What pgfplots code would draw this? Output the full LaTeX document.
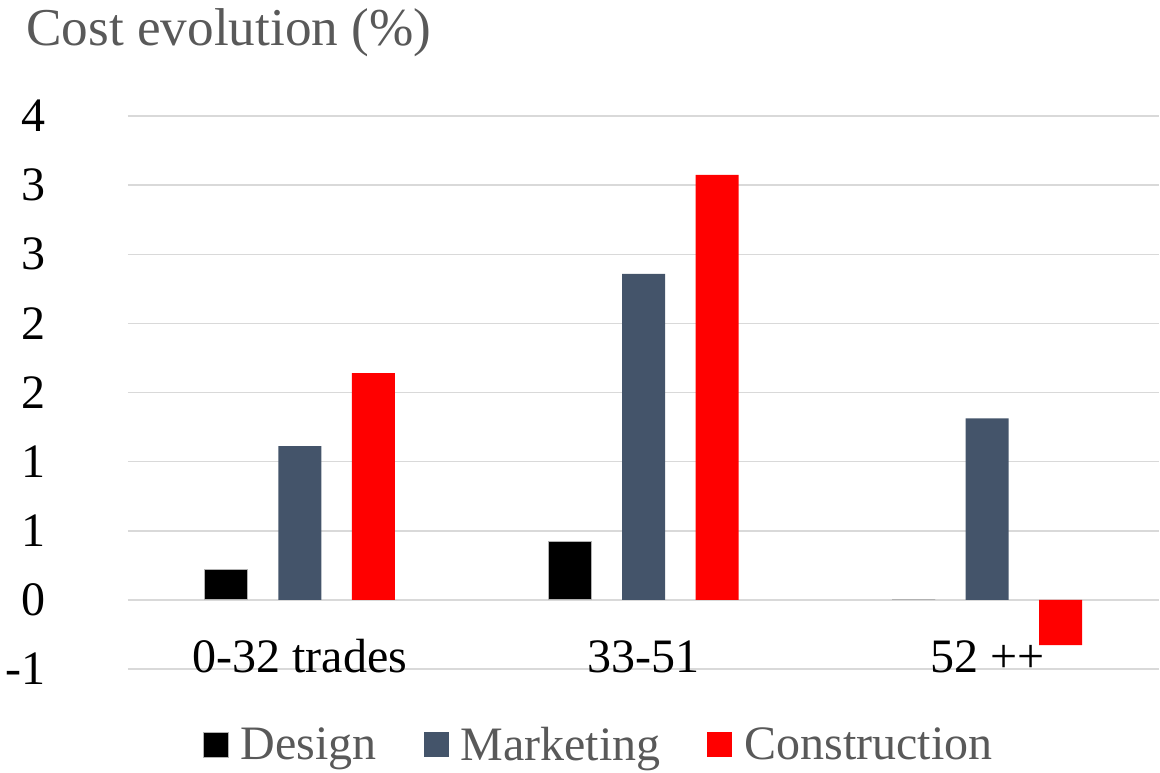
\documentclass[border=0pt]{standalone}
\usepackage{fontspec}
\setmainfont{Liberation Serif}
\usepackage{pgfplots}
\pgfplotsset{compat=1.18}
\definecolor{mkt}{HTML}{44546A}
\definecolor{txtgray}{HTML}{595959}
\definecolor{gridc}{HTML}{D9D9D9}
\begin{document}
\begin{tikzpicture}
\useasboundingbox (-64pt,-51.5pt) rectangle (516pt,334.5pt);
\begin{axis}[
  at={(0pt,0pt)}, anchor=south west,
  scale only axis, width=515.5pt, height=276.5pt,
  xmin=-0.5, xmax=2.5, ymin=-5, ymax=35,
  axis line style={draw=none}, major tick length=0pt,
  ytick={-5,0,...,35}, yticklabels={-1,0,1,1,2,2,3,3,4},
  ymajorgrids, grid style={gridc, line width=0.75pt},
  xtick={0,1,2}, xticklabels={0-32 trades,33-51,52 ++},
  tick label style={font=\fontsize{24}{28}\selectfont, text=black},
  yticklabel style={anchor=east, inner sep=0pt, xshift=-41pt},
  xticklabel style={anchor=base, inner sep=0pt, yshift=-1.5pt},
  ybar, bar width=21.5pt,
  legend columns=-1,
  legend style={draw=none, fill=none, at={(0.4555,-0.1374)}, anchor=center,
    font=\fontsize{24}{28}\selectfont, text=txtgray, inner sep=0pt,
    nodes={inner sep=0pt}, column sep=0pt,
    /tikz/every odd column/.append style={column sep=6pt},
    /tikz/every even column/.append style={column sep=23.5pt}},
  legend image code/.code={\fill[#1] (0pt,-6.25pt) rectangle (12.5pt,6.25pt);},
]
\addplot[fill=black, draw=gray!60, line width=0.4pt, bar shift=-36.75pt] coordinates {(0,2.22) (1,4.22) (2,0)};
\addplot[fill=mkt, draw=none, bar shift=0pt] coordinates {(0,11.12) (1,23.59) (2,13.12)};
\addplot[fill=red, draw=none, bar shift=36.75pt] coordinates {(0,16.40) (1,30.75) (2,-3.28)};
\legend{Design,Marketing,Construction}
\end{axis}
\node[anchor=base west, inner sep=0pt, text=txtgray, font=\fontsize{26.6}{30}\selectfont] at (-51pt,311.5pt) {Cost evolution (\%)};
\end{tikzpicture}
\end{document}
